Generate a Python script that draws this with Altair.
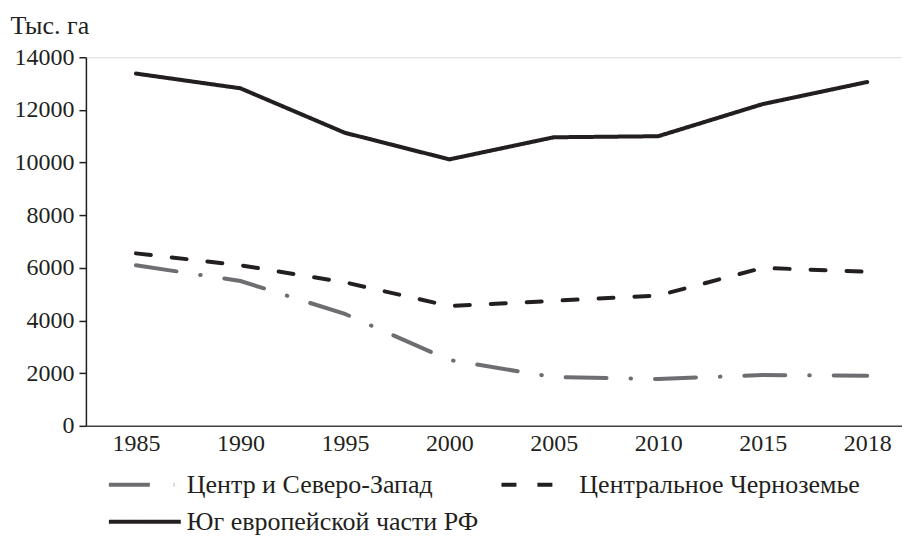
import altair as alt
import pandas as pd

years = ["1985", "1990", "1995", "2000", "2005", "2010", "2015", "2018"]
regions = ["Центр и Северо-Запад", "Центральное Черноземье", "Юг европейской части РФ"]
centre = [6100, 5500, 4250, 2500, 1850, 1780, 1930, 1900]
chernozem = [6550, 6100, 5450, 4550, 4750, 4950, 6000, 5850]
south = [13380, 12820, 11130, 10120, 10960, 11000, 12220, 13060]

rows = []
for name, vals in zip(regions, [centre, chernozem, south]):
    for y, v in zip(years, vals):
        rows.append({"year": y, "region": name, "value": v})
df = pd.DataFrame(rows)

FONT = "Liberation Serif"
INK = "#231f20"

legend = alt.Legend(
    title=None,
    orient="none",
    direction="horizontal",
    legendX=21,
    legendY=414,
    columns=2,
    columnPadding=15,
    rowPadding=10,
    symbolType="M-1,0H5",
    symbolSize=576,
    symbolStrokeWidth=4,
    labelOffset=52,
    labelFont=FONT,
    labelFontSize=26,
    labelColor=INK,
    labelLimit=0,
)

chart = alt.Chart(df).mark_line(strokeWidth=4, strokeCap="round").encode(
    x=alt.X("year:O", sort=years, title=None,
            scale=alt.Scale(type="point", padding=0.406, align=0.59),
            axis=alt.Axis(labelAngle=0, ticks=False, labelPadding=6,
                          labelFont=FONT, labelFontSize=24, labelColor=INK,
                          domainColor="#444444", domainWidth=1.5)),
    y=alt.Y("value:Q", title="Тыс. га",
            scale=alt.Scale(domain=[0, 14000], nice=False),
            axis=alt.Axis(values=list(range(0, 14001, 2000)), grid=False, format="d",
                          labelFont=FONT, labelFontSize=24, labelColor=INK,
                          labelPadding=5, tickSize=7, tickWidth=1.5, tickColor=INK,
                          domainColor=INK, domainWidth=1.5,
                          titleAngle=0, titleAlign="left", titleBaseline="alphabetic",
                          titleFont=FONT, titleFontSize=26, titleFontWeight="normal",
                          titleColor=INK, titleX=-76, titleY=-24)),
    color=alt.Color("region:N", sort=regions,
                    scale=alt.Scale(domain=regions, range=["#6d6e71", INK, INK]),
                    legend=legend),
    strokeDash=alt.StrokeDash("region:N", sort=regions,
                              scale=alt.Scale(domain=regions,
                                              range=[[41, 24, 0.5, 24], [15, 21], [1, 0]]),
                              legend=legend),
).properties(
    width=817, height=369,
    padding={"left": 2, "top": 4, "right": 0, "bottom": 0},
).configure_view(stroke=None).configure(font=FONT)

chart.save("out.html", embed_options={"renderer": "svg", "actions": False})
